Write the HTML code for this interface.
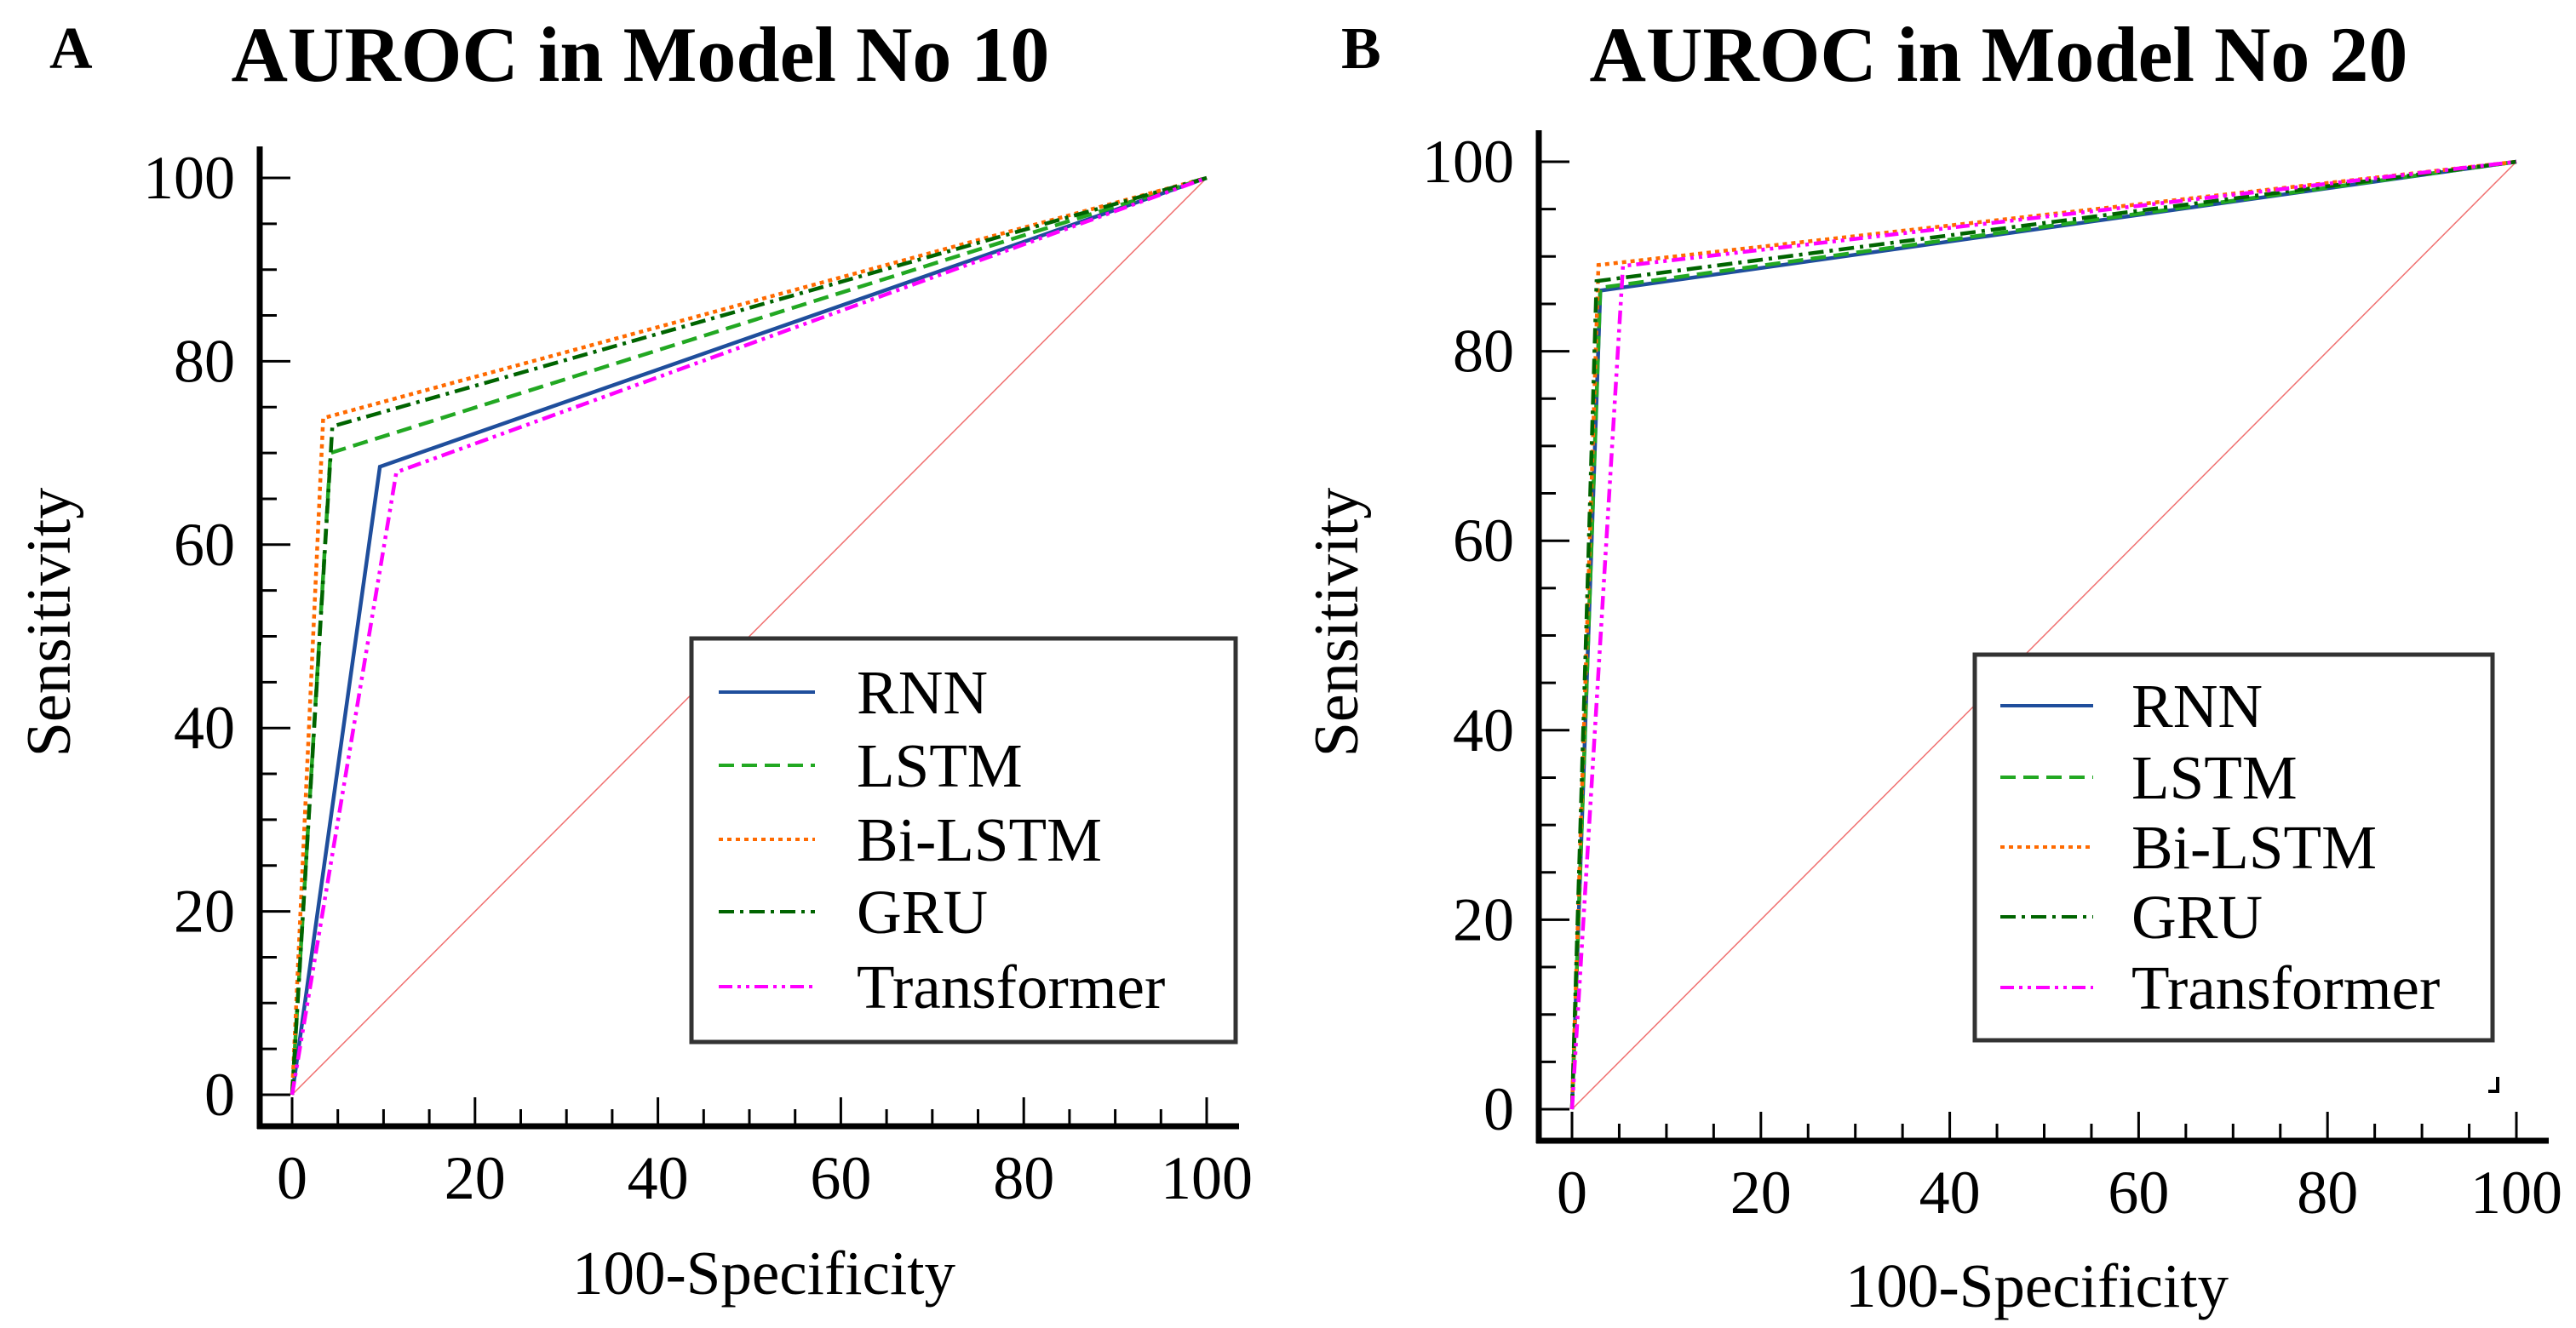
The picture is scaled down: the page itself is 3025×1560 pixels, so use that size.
<!DOCTYPE html>
<html><head><meta charset="utf-8"><style>
html,body{margin:0;padding:0;background:#fff}
svg{display:block;font-family:"Liberation Serif",serif}
</style></head><body>
<svg id="root" width="3025" height="1560" viewBox="0 0 3025 1560" xmlns="http://www.w3.org/2000/svg"></svg>
<script>
const seriesNames = ["RNN","LSTM","Bi-LSTM","GRU","Transformer"];
const kneeXA = [9.6, 4.2, 3.4, 4.4, 11.4];
const kneeYA = [68.5, 70.0, 73.8, 72.9, 67.9];
const kneeXB = [3.0, 3.0, 2.8, 2.6, 5.4];
const kneeYB = [86.4, 86.7, 89.1, 87.4, 89.0];
const xTicks = [0,20,40,60,80,100];
const yTicks = [0,20,40,60,80,100];
const colors = ["#1f4e9c","#22a822","#ff6a00","#006400","#ff00ff"];
const dashes = ["", "18,9", "5,5", "18,7,4,7", "16,6,4,6,4,6"];
const NS = "http://www.w3.org/2000/svg";
const root = document.getElementById('root');
function mk(tag, attrs, parent, text){
  const e = document.createElementNS(NS, tag);
  for (const k in attrs) e.setAttribute(k, attrs[k]);
  if (text !== undefined) e.textContent = text;
  (parent||root).appendChild(e); return e;
}
function panel(P){
  const g = mk('g', {});
  
  
  const sx = v => P.x0 + (P.x1 - P.x0) * v / 100;
  const sy = v => P.y0 - (P.y0 - P.y1) * v / 100;
  const lbl = mk('text', {x:P.lx, y:80, 'font-size':70, 'font-weight':'bold'}, g, P.letter);
  
  
  const t = mk('text', {x:P.tx, y:95, 'font-size':92, 'font-weight':'bold', 'text-anchor':'middle'}, g, P.title);
  
  
  const ya = mk('line', {x1:P.ax, y1:P.ytop, x2:P.ax, y2:P.axy+3, stroke:'#000','stroke-width':7}, g);
  
  
  const xa = mk('line', {x1:P.ax-3, y1:P.axy, x2:P.xend, y2:P.axy, stroke:'#000','stroke-width':7}, g);
  
  
  for (let v = 0; v <= 100; v += 5){
    const major = v % 20 === 0;
    mk('line', {x1:sx(v), y1:P.axy, x2:sx(v), y2:P.axy - (major?34:20), stroke:'#000','stroke-width':3}, g);
    mk('line', {x1:P.ax, y1:sy(v), x2:P.ax + (major?36:20), y2:sy(v), stroke:'#000','stroke-width':3}, g);
  }
  xTicks.forEach(v => {
    const e = mk('text', {x:sx(v), y:P.axy+85, 'font-size':72, 'text-anchor':'middle'}, g, String(v));
    
    
  });
  yTicks.forEach(v => {
    const e = mk('text', {x:P.ax-29, y:sy(v)+24, 'font-size':72, 'text-anchor':'end'}, g, String(v));
    
    
  });
  const xt = mk('text', {x:P.xtx, y:P.xty, 'font-size':73, 'text-anchor':'middle'}, g, '100-Specificity');
  
  
  const yt = mk('text', {x:0, y:0, 'font-size':74, 'text-anchor':'middle', transform:`translate(${P.ytx},${P.yty}) rotate(-90)`}, g, 'Sensitivity');
  
  
  const diag = mk('line', {x1:sx(0), y1:sy(0), x2:sx(100), y2:sy(100), stroke:'#f07070','stroke-width':1.5}, g);
  
  
  seriesNames.forEach((n, i) => {
    const pts = [[0,0],[P.kx[i],P.ky[i]],[100,100]].map(p => sx(p[0]) + ',' + sy(p[1])).join(' ');
    const pl = mk('polyline', {points:pts, fill:'none', stroke:colors[i], 'stroke-width':4.5, 'stroke-dasharray':dashes[i]||'none'}, g);
    
    
  });
  const lg = mk('g', {}, g);
  
  
  mk('rect', {x:P.L.x, y:P.L.y, width:P.L.w, height:P.L.h, fill:'#fff', stroke:'#333','stroke-width':5}, lg);
  seriesNames.forEach((n, i) => {
    const y = P.L.rows[i];
    const ln = mk('line', {x1:P.L.lx1, y1:y, x2:P.L.lx2, y2:y, stroke:colors[i], 'stroke-width':4, 'stroke-dasharray':dashes[i]||'none'}, lg);
    
    
    const tx = mk('text', {x:P.L.tx, y:y+25, 'font-size':73}, lg, n);
    
    
  });
  if (P.corner){
    const c = mk('path', {d:`M ${P.corner[0]} ${P.corner[1]} L ${P.corner[0]} ${P.corner[1]+17} L ${P.corner[0]-11} ${P.corner[1]+17}`, fill:'none', stroke:'#000','stroke-width':4}, g);
    
    
  }
}
panel({id:'a', letter:'A', lx:58, title:'AUROC in Model No 10', tx:752,
  x0:343, x1:1417, y0:1286, y1:209, ax:305, axy:1323, ytop:172, xend:1455,
  xtx:897, xty:1520, ytx:82, yty:731, kx:kneeXA, ky:kneeYA,
  L:{x:812, y:750, w:639, h:474, lx1:844, lx2:957, tx:1006, rows:[813,899,986,1071,1159]}});
panel({id:'b', letter:'B', lx:1575, title:'AUROC in Model No 20', tx:2347,
  x0:1846, x1:2955, y0:1303, y1:190, ax:1807, axy:1340, ytop:153, xend:2993,
  xtx:2392, xty:1535, ytx:1594, yty:731, kx:kneeXB, ky:kneeYB,
  L:{x:2319, y:769, w:608, h:453, lx1:2349, lx2:2458, tx:2503, rows:[829,913,995,1077,1160]},
  corner:[2933,1265]});
</script>
</body></html>
